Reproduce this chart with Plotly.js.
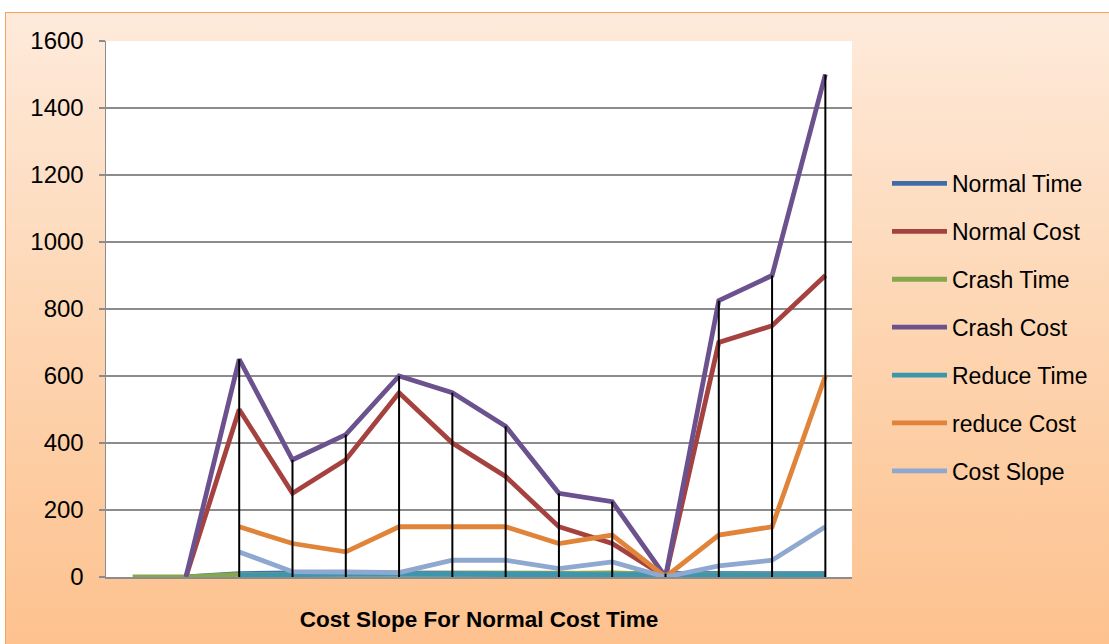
<!DOCTYPE html>
<html>
<head>
<meta charset="utf-8">
<script src="https://cdn.plot.ly/plotly-3.0.1.min.js"></script>
<style>
  html, body { margin: 0; padding: 0; background: #ffffff; }
  #wrap { position: relative; width: 1109px; height: 644px; overflow: hidden; background: #ffffff; }
  #frame { position: absolute; left: 5px; top: 12px; width: 1110px; height: 640px;
           border-left: 1.5px solid #F5A35E; border-top: 1.5px solid #F5A35E;
           background: linear-gradient(to bottom, #FEEADB 0%, #FDD7B5 45%, #FDC18D 100%); }
  #chart { position: absolute; left: 0; top: 0; width: 1109px; height: 644px; }
</style>
</head>
<body>
<div id="wrap">
  <div id="frame"></div>
  <div id="chart"></div>
</div>
<script>
const categories = [1, 2, 3, 4, 5, 6, 7, 8, 9, 10, 11, 12, 13, 14];
const normalTime = [null, 0, 10, 12, 12, 12, 12, 12, 12, 12, 10, 12, 12, 10];
const normalCost = [null, 0, 500, 250, 350, 550, 400, 300, 150, 100, 0, 700, 750, 900];
const crashTime  = [0, 0, 8, 8, 8, 8, 8, 8, 10, 12, 8, 8, 8, 6];
const crashCost  = [null, 0, 650, 350, 425, 600, 550, 450, 250, 225, 0, 825, 900, 1500];
const reduceTime = [null, null, 6, 8, 8, 8, 8, 8, 8, 8, 8, 8, 8, 6];
const reduceCost = [null, null, 150, 100, 75, 150, 150, 150, 100, 125, 0, 125, 150, 600];
const costSlope  = [null, null, 75, 16, 15, 13, 50, 50, 25, 45, 0, 33, 50, 150];
const yTicks = [0, 200, 400, 600, 800, 1000, 1200, 1400, 1600];
const chartTitle = "Cost Slope For Normal Cost Time";

const seriesDefs = [
  ["Normal Time", normalTime, "#3F6CA8"],
  ["Normal Cost", normalCost, "#A5413E"],
  ["Crash Time", crashTime, "#86A84A"],
  ["Crash Cost", crashCost, "#6B528F"],
  ["Reduce Time", reduceTime, "#3E96AE"],
  ["reduce Cost", reduceCost, "#E0843A"],
  ["Cost Slope", costSlope, "#8EA8CF"]
];

const traces = seriesDefs.map((s, i) => ({
  type: "scatter", mode: "lines", name: s[0], x: categories, y: s[1],
  line: { color: s[2], width: 4.8, shape: "linear" },
  connectgaps: false, legendgroup: "g" + i, hoverinfo: "skip"
}));

// drop lines from the highest series value at each category down to the axis
const allSeries = seriesDefs.map(s => s[1]);
const dx = [], dy = [];
categories.forEach((c, i) => {
  const vals = allSeries.map(a => a[i]).filter(v => v !== null);
  const m = Math.max(...vals);
  if (m > 0) { dx.push(c, c, null); dy.push(0, m, null); }
});
traces.push({
  type: "scatter", mode: "lines", x: dx, y: dy, showlegend: false,
  line: { color: "#000000", width: 2 }, hoverinfo: "skip"
});

const layout = {
  width: 1109, height: 644,
  margin: { l: 106, r: 257, t: 41, b: 67 },
  paper_bgcolor: "rgba(0,0,0,0)",
  plot_bgcolor: "#ffffff",
  font: { family: "Liberation Sans, Arial, sans-serif", color: "#000000" },
  xaxis: {
    range: [0.5, 14.5], showticklabels: false, showgrid: false, zeroline: false,
    showline: true, linecolor: "#8C8C8C", linewidth: 1.5, ticks: "",
    title: { text: "<b>" + chartTitle + "</b>", font: { size: 22.5, family: "Liberation Sans, Arial, sans-serif" }, standoff: 33 }
  },
  yaxis: {
    range: [0, 1600], tickvals: yTicks, ticktext: yTicks.map(String),
    showgrid: true, gridcolor: "#8C8C8C", gridwidth: 1.5, zeroline: false,
    showline: true, linecolor: "#8C8C8C", linewidth: 1.5,
    ticks: "outside", ticklen: 6, tickcolor: "#8C8C8C", tickwidth: 1.5,
    ticklabelstandoff: 10,
    tickfont: { size: 24, family: "Liberation Sans, Arial, sans-serif" }
  },
  showlegend: true,
  legend: {
    xref: "container", yref: "container",
    x: 887 / 1109, y: 1 - 162 / 644, xanchor: "left", yanchor: "top",
    bgcolor: "rgba(0,0,0,0)", borderwidth: 0, maxheight: 600,
    font: { size: 23, family: "Liberation Sans, Arial, sans-serif" },
    traceorder: "grouped", tracegroupgap: 15, itemwidth: 55
  }
};

Plotly.newPlot("chart", traces, layout, { displayModeBar: false, staticPlot: true });
</script>
</body>
</html>
